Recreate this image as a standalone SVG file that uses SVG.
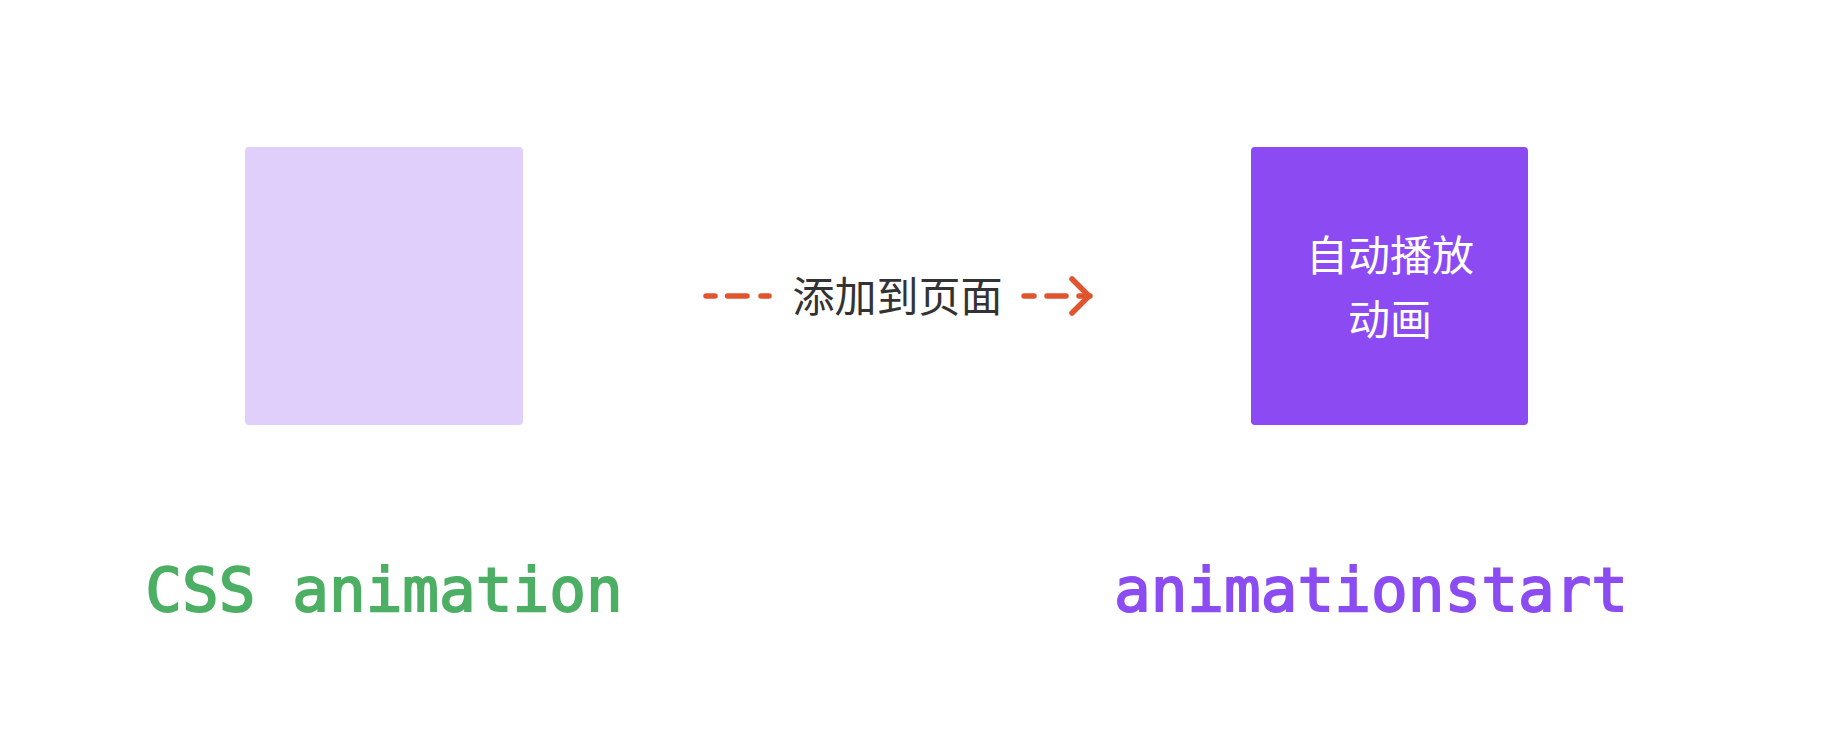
<svg xmlns="http://www.w3.org/2000/svg" width="1844" height="748" viewBox="0 0 1844 748">
  <style>
    .cjk { font-family: "Noto Sans CJK SC", "Noto Sans", sans-serif; font-size: 42px; text-anchor: middle; }
    .mono { font-family: "DejaVu Sans Mono", "Liberation Mono", monospace; font-size: 61px; text-anchor: middle; stroke-width: 1.8px; }
    .dash { fill: none; stroke: #E0552F; stroke-width: 5.5; stroke-linecap: round; stroke-linejoin: round; }
  </style>
  <defs>
    <marker id="chev" viewBox="0 0 24 40" refX="21" refY="20" markerWidth="24" markerHeight="40" markerUnits="userSpaceOnUse" orient="auto">
      <polyline points="3,3 20,20 3,37" fill="none" stroke="#E0552F" stroke-width="5.5" stroke-linecap="round" stroke-linejoin="round"/>
    </marker>
  </defs>
  <rect width="1844" height="748" fill="#FFFFFF"/>

  <g id="node-css">
    <rect x="245" y="147" width="278" height="278" rx="4" fill="#E0CFFB"/>
    <text class="mono" x="384" y="611" fill="#4CAF64" stroke="#4CAF64">CSS animation</text>
  </g>

  <g id="node-start">
    <rect x="1251" y="147" width="277" height="278" rx="4" fill="#8C4AF2"/>
    <text class="cjk" x="1390" y="271" fill="#FFFFFF">自动播放</text>
    <text class="cjk" x="1390" y="335" fill="#FFFFFF">动画</text>
    <text class="mono" x="1371" y="611" fill="#8B4CF1" stroke="#8B4CF1">animationstart</text>
  </g>

  <g id="connectors">
    <path class="dash" d="M706 296 H715 M727.5 296 H747 M761 296 H769"/>
    <path class="dash" d="M1024 296 H1034 M1047 296 H1066 M1079 296 H1090" marker-end="url(#chev)"/>
    <text class="cjk" x="897.5" y="312" fill="#333333">添加到页面</text>
  </g>
</svg>
